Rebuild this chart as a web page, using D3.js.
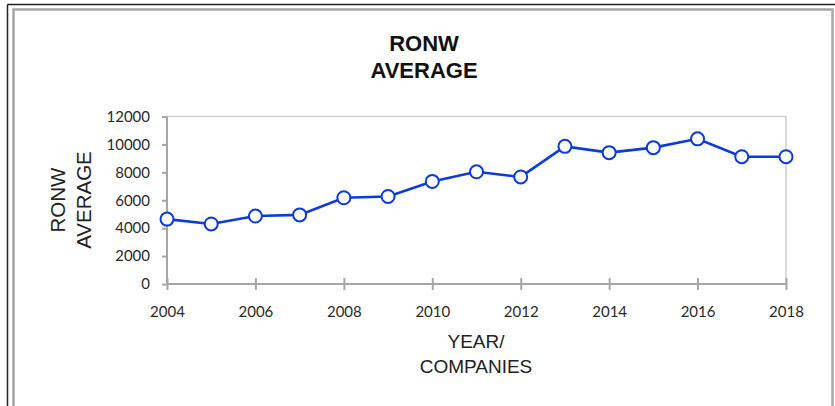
<!DOCTYPE html>
<html>
<head>
<meta charset="utf-8">
<script src="https://cdn.jsdelivr.net/npm/d3@7"></script>
<style>
  body { margin: 0; background: #fff; }
  svg { display: block; }
</style>
</head>
<body>
<script>
// data
var years = [2004,2005,2006,2007,2008,2009,2010,2011,2012,2013,2014,2015,2016,2017,2018];
var ronw = [4650,4300,4870,4950,6180,6270,7350,8040,7670,9860,9410,9770,10400,9120,9120];
var xTicks = [2004,2006,2008,2010,2012,2014,2016,2018];
var yTicks = [0,2000,4000,6000,8000,10000,12000];

var w = 835, h = 406;
var svg = d3.select("body").append("svg").attr("width",w).attr("height",h);

// outer frame
svg.append("line").attr("x1",7.5).attr("y1",4.5).attr("x2",w).attr("y2",4.5)
  .attr("stroke","#222").attr("stroke-width",1.5);
svg.append("line").attr("x1",7.5).attr("y1",4.5).attr("x2",7.5).attr("y2",h)
  .attr("stroke","#222").attr("stroke-width",1.5);
svg.append("path").attr("d","M13.5," + h + "V9.5H832.5V" + h)
  .attr("fill","none").attr("stroke","#a6a6a6").attr("stroke-width",2.5);

// scales
var x = d3.scaleLinear().domain([2004,2018]).range([167,786]);
var y = d3.scaleLinear().domain([0,12000]).range([284,116.5]);

// plot area border (top, right)
svg.append("path")
  .attr("d","M" + x(2004) + "," + y(12000) + "H" + x(2018) + "V" + y(0))
  .attr("fill","none").attr("stroke","#d0d0d0").attr("stroke-width",1.5);

// y axis
var yAxis = d3.axisLeft(y).tickValues(yTicks).tickSize(5).tickPadding(12).tickFormat(d3.format("d"));
var gy = svg.append("g").attr("transform","translate(" + x(2004) + ",0)").call(yAxis);

// x axis: ticks cross the axis
var xAxis = d3.axisBottom(x).tickValues(xTicks).tickSize(6).tickPadding(16).tickFormat(d3.format("d"));
var gx = svg.append("g").attr("transform","translate(0," + y(0) + ")").call(xAxis);
gx.selectAll(".tick line").attr("y1",-6);

[gx, gy].forEach(function(g){
  g.select(".domain").attr("stroke","#a6a6a6").attr("stroke-width",2);
  g.selectAll(".tick line").attr("stroke","#a6a6a6").attr("stroke-width",2);
  g.selectAll(".tick text").attr("font-family","Lato, 'Open Sans', sans-serif")
    .attr("font-size","15px").attr("fill","#2a2a2a");
});
gx.select(".domain").attr("d","M" + x(2004) + ",0H" + x(2018));
gy.select(".domain").attr("d","M0," + y(0) + "V" + y(12000));

// line
var line = d3.line()
  .x(function(d,i){ return x(years[i]); })
  .y(function(d){ return y(d); });

svg.append("path").datum(ronw)
  .attr("d",line)
  .attr("fill","none")
  .attr("stroke","#0a3ae0")
  .attr("stroke-width",2.6);

svg.selectAll("circle.pt")
  .data(ronw)
  .enter()
  .append("circle")
  .attr("class","pt")
  .attr("cx",function(d,i){ return x(years[i]); })
  .attr("cy",function(d){ return y(d); })
  .attr("r",6.5)
  .attr("fill","#fff")
  .attr("stroke","#0a3ae0")
  .attr("stroke-width",2);

// titles
var title = svg.append("text")
  .attr("text-anchor","middle")
  .attr("font-family","'Liberation Sans', Arial, sans-serif")
  .attr("font-weight","bold")
  .attr("font-size","22px")
  .attr("fill","#111");
title.append("tspan").attr("x",424).attr("y",51).text("RONW");
title.append("tspan").attr("x",424).attr("y",78).text("AVERAGE");

var xt = svg.append("text")
  .attr("text-anchor","middle")
  .attr("font-family","'Liberation Sans', Arial, sans-serif")
  .attr("font-size","19px")
  .attr("fill","#222");
xt.append("tspan").attr("x",476).attr("y",348).text("YEAR/");
xt.append("tspan").attr("x",476).attr("y",373).text("COMPANIES");

var yt = svg.append("text")
  .attr("text-anchor","middle")
  .attr("transform","rotate(-90)")
  .attr("font-family","'Liberation Sans', Arial, sans-serif")
  .attr("font-size","20.5px")
  .attr("fill","#222");
yt.append("tspan").attr("x",-200).attr("y",65).text("RONW");
yt.append("tspan").attr("x",-200).attr("y",91).text("AVERAGE");
</script>
</body>
</html>
